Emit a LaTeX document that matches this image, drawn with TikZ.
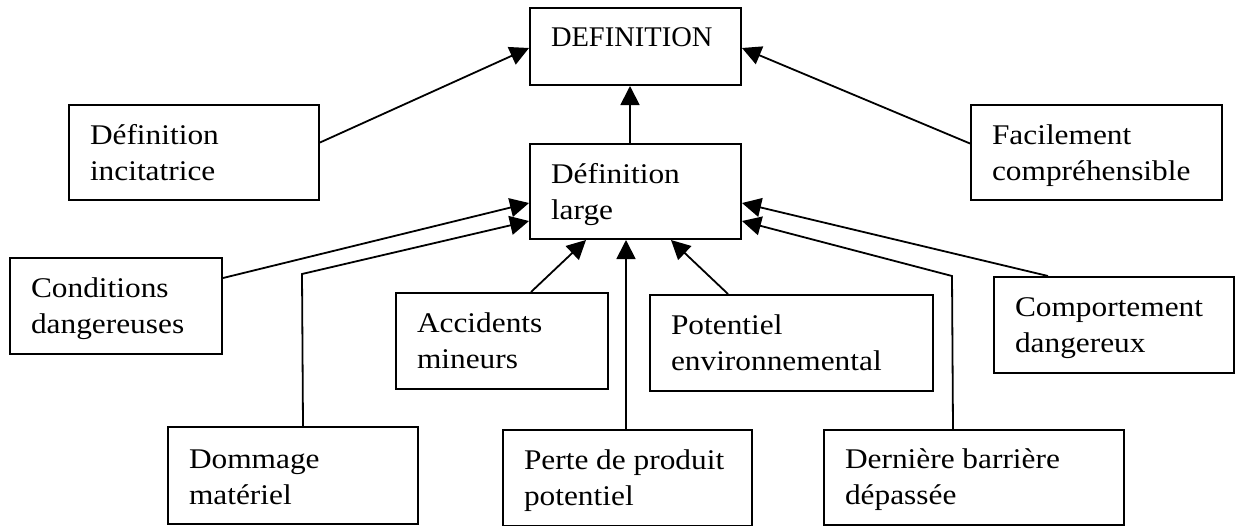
\documentclass[tikz,border=0pt]{standalone}
\usepackage{fontspec}
\setmainfont{Liberation Serif}[FakeStretch=1.1]
\newfontfamily\capsfont{Liberation Serif}
\usetikzlibrary{arrows.meta}
\begin{document}
\begin{tikzpicture}[x=1pt,y=-1pt,
  every node/.style={font=\fontsize{28.5}{36}\selectfont},
  box/.style={draw, line width=2pt, anchor=north west, inner xsep=21pt,
              inner ysep=0pt, text height=39pt},
  arr/.style={line width=1.8pt, -{Triangle[length=19pt,width=19pt]}},
  link/.style={line width=1.8pt}]
\useasboundingbox[fill=white] (0,0) rectangle (1236,525);

% boxes
\node[box, text height=38pt, text depth=39pt] (def) at (529,7)
  {\parbox[t]{169pt}{\capsfont DEFINITION}};
\node[box, text depth=56pt] (large) at (529,143)
  {\parbox[t]{169pt}{\raggedright Définition\\large}};
\node[box, text depth=56pt] (inc) at (68,104)
  {\parbox[t]{208pt}{\raggedright Définition\\incitatrice}};
\node[box, text depth=56pt] (fac) at (970,104)
  {\parbox[t]{209pt}{\raggedright Facilement\\compréhensible}};
\node[box, text depth=57pt] (cond) at (9,257)
  {\parbox[t]{170pt}{\raggedright Conditions\\dangereuses}};
\node[box, text depth=57pt] (acc) at (395,292)
  {\parbox[t]{170pt}{\raggedright Accidents\\mineurs}};
\node[box, text depth=57pt] (pot) at (649,294)
  {\parbox[t]{241pt}{\raggedright Potentiel\\environnemental}};
\node[box, text depth=57pt] (comp) at (993,276)
  {\parbox[t]{198pt}{\raggedright Comportement\\dangereux}};
\node[box, text height=41pt, text depth=56pt] (dom) at (167,426)
  {\parbox[t]{208pt}{\raggedright Dommage\\matériel}};
\node[box, text depth=57pt] (perte) at (502,429)
  {\parbox[t]{207pt}{\raggedright \mbox{Perte de produit}\\potentiel}};
\node[box, text height=38pt, text depth=57pt] (der) at (823,429)
  {\parbox[t]{258pt}{\raggedright Dernière barrière\\dépassée}};

% bends of the elbow connectors
\coordinate (dombend) at (302,274);
\coordinate (derbend) at (952,276);

% connectors to DEFINITION
\draw[arr] ([xshift=-5.5pt]large.north) -- ([xshift=-5.5pt]def.south);
\draw[arr] ([yshift=10pt]inc.east) -- ([yshift=-1.5pt]def.west);
\draw[arr] ([yshift=9pt]fac.west) -- ([yshift=-1.5pt]def.east);

% connectors to Définition large
\draw[arr] ([yshift=28pt]cond.east) -- ([yshift=-11.5pt]large.west);
\draw[arr] ([xshift=10pt]dom.north) -- (dombend) -- ([yshift=-29.5pt]large.west);
\draw[arr] ([xshift=29pt]acc.north) -- ([xshift=-49.5pt]large.south);
\draw[arr] ([xshift=-1.5pt]perte.north) -- ([xshift=-9.5pt]large.south);
\draw[arr] ([xshift=-63.5pt]pot.north) -- ([xshift=35.5pt]large.south);
\draw[arr] ([xshift=-21pt]der.north) -- (derbend) -- ([yshift=-29.5pt]large.east);
\draw[arr] ([xshift=-66pt]comp.north) -- ([yshift=-11.5pt]large.east);
\end{tikzpicture}
\end{document}
